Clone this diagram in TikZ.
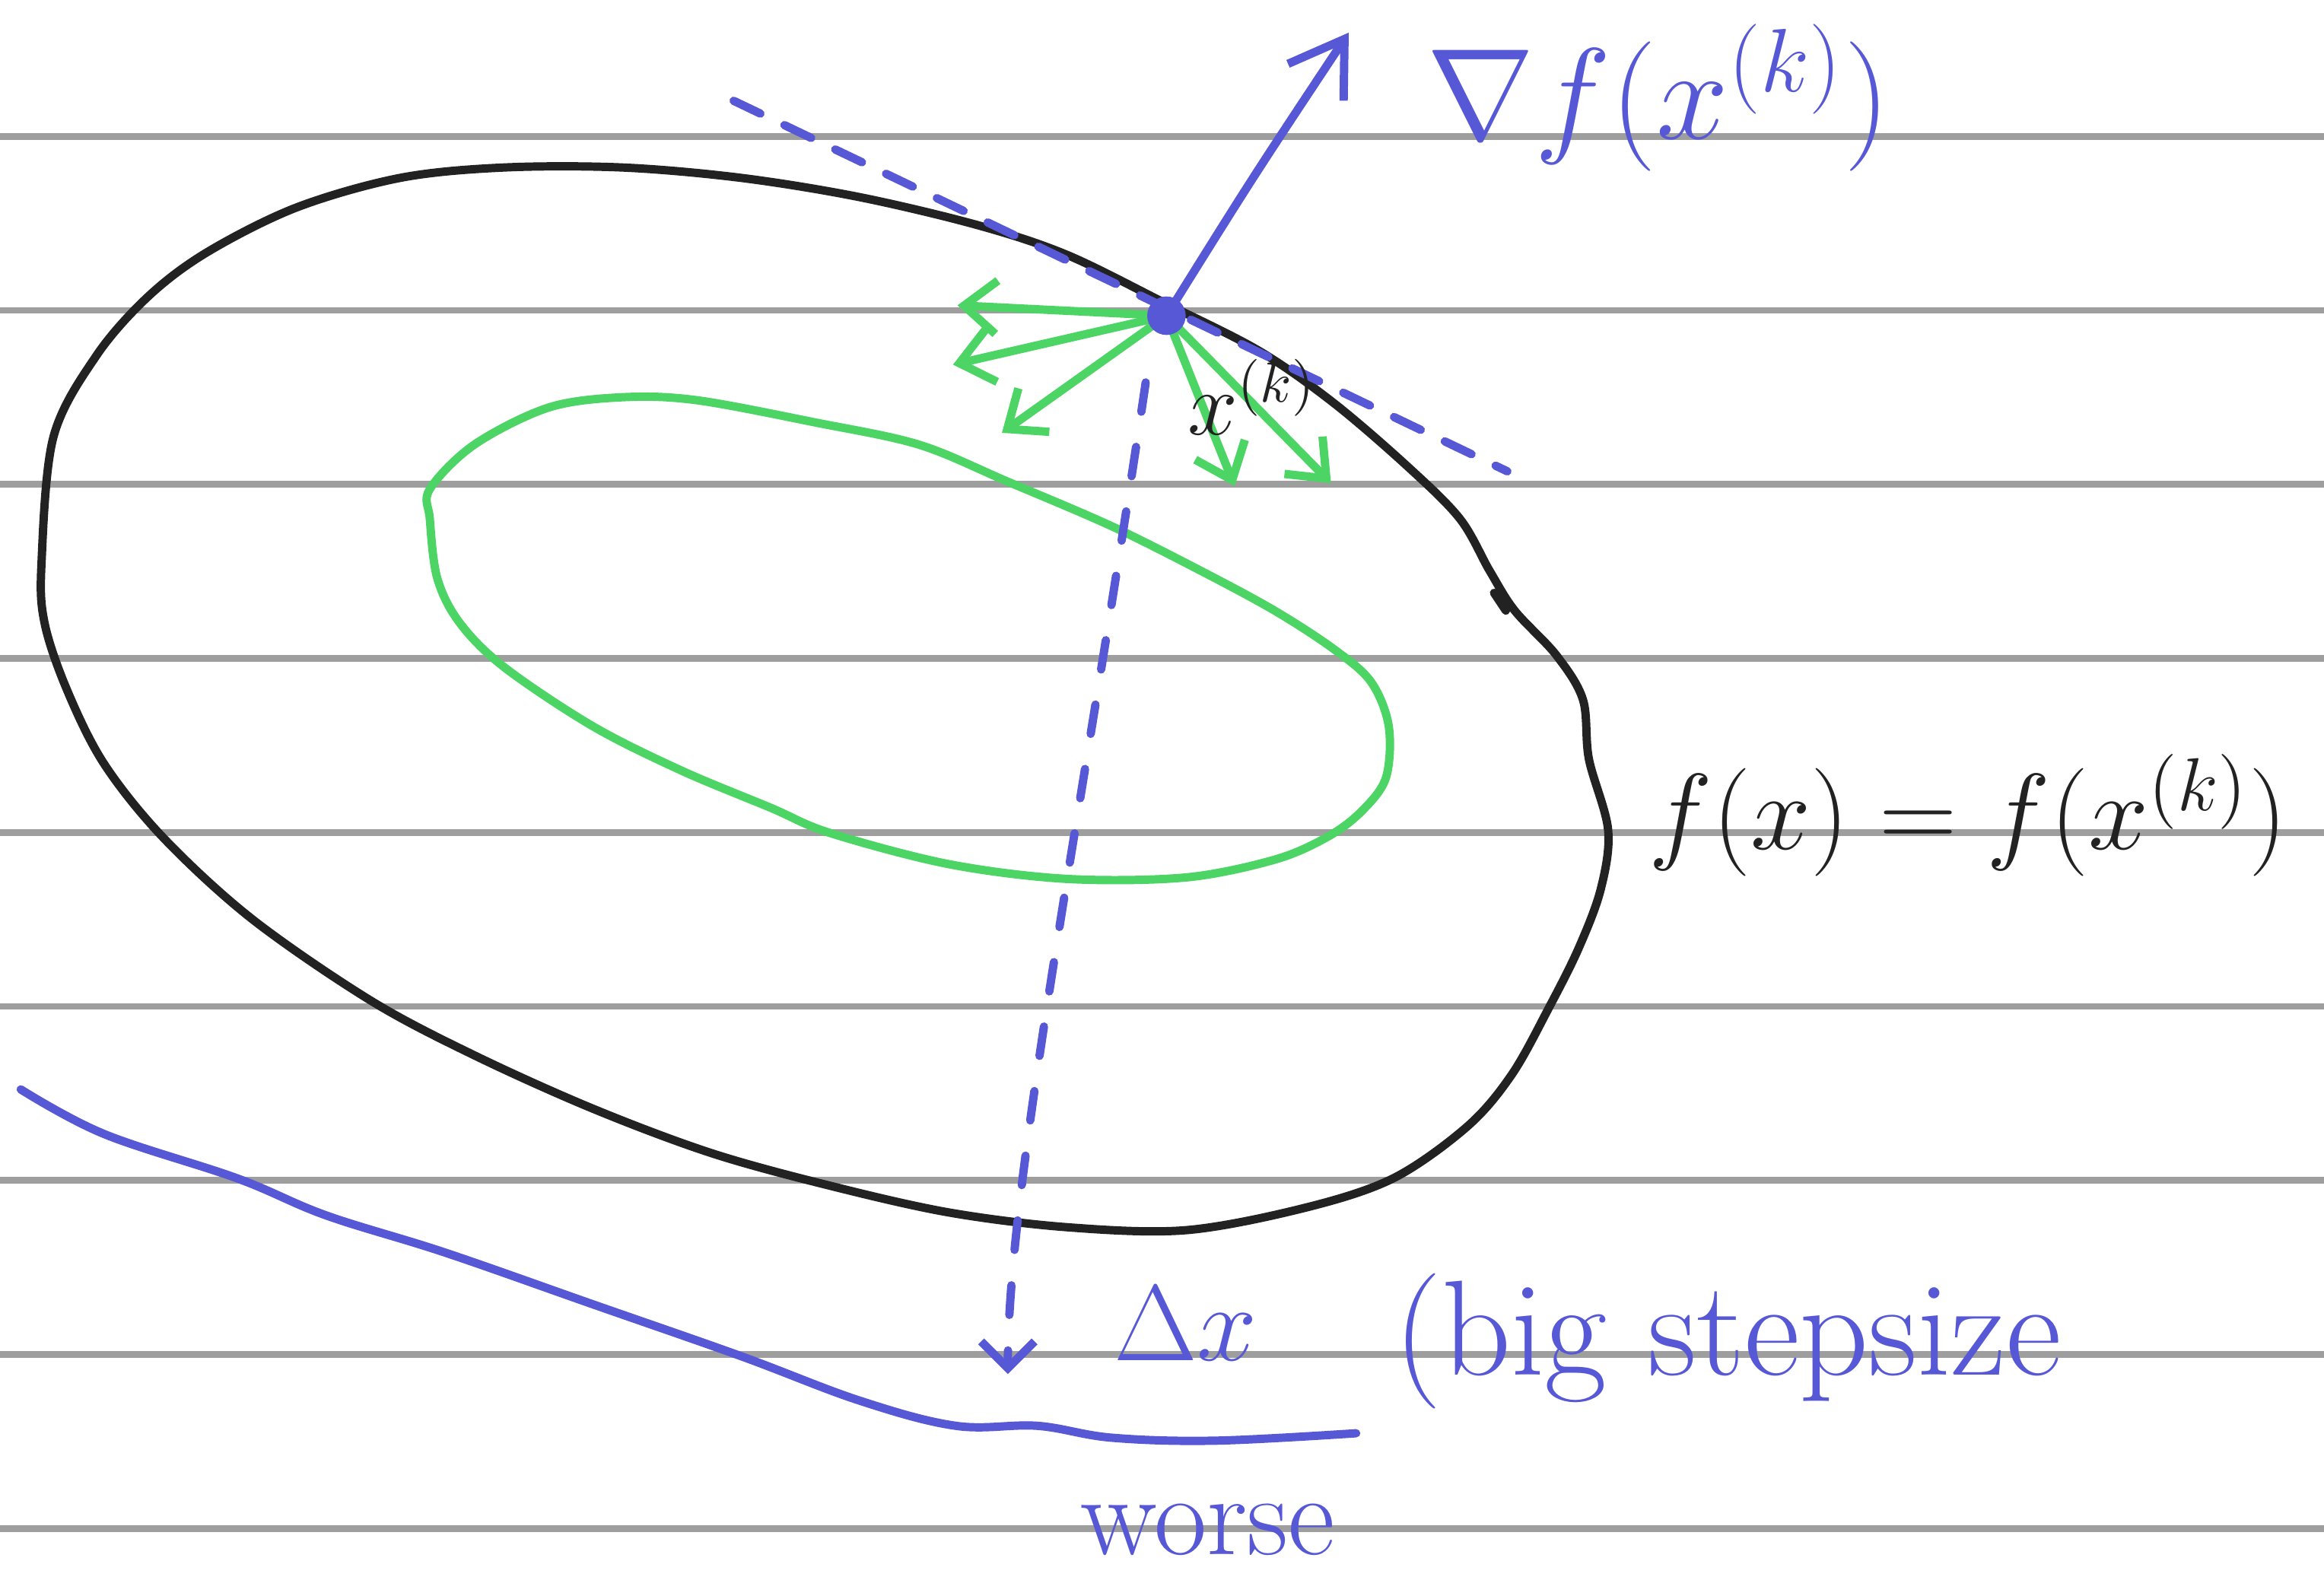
\documentclass[tikz,border=0pt]{standalone}
\usetikzlibrary{arrows.meta}
\definecolor{penblue}{RGB}{86,88,214}
\definecolor{pengreen}{RGB}{76,212,100}
\definecolor{penblack}{RGB}{34,34,34}
\definecolor{paperline}{RGB}{158,158,158}

\begin{document}
\begin{tikzpicture}[x=0.1mm, y=-0.1mm, line cap=round, line join=round,
  ink/.style={line width=1.6pt},
  gstep/.style={ink, pengreen, -{Straight Barb[length=2.2mm, width=3.6mm]}},
  hand/.style={font=\fontsize{22}{26}\selectfont}]
\useasboundingbox (0,0) rectangle (1568,1066);
% ruled paper
\foreach \i in {0,...,8} \draw[paperline, line width=1.3pt] (0,92+117.4*\i) -- (1568,92+117.4*\i);
% level set through x^(k) and a lower one
\draw[ink, penblack] plot[smooth cycle, tension=0.55] coordinates {(28,380) (36,295) (65,240) (100,200) (140,170) (200,140) (270,120) (340,113) (420,113) (500,120) (580,133) (660,152) (720,172) (787,205) (850,237) (900,272) (950,315) (985,350) (1005,385) (1022,412) (1050,442) (1068,472) (1072,512) (1085,560) (1080,600) (1065,640) (1045,680) (1020,725) (990,760) (940,795) (880,815) (800,830) (720,828) (640,818) (560,800) (480,778) (400,748) (320,712) (250,675) (170,620) (110,565) (70,515) (45,465) (30,420)};
\draw[ink, penblack] (1008,400) -- (1016,412);
\draw[ink, pengreen] plot[smooth cycle, tension=0.55] coordinates {(290,330) (320,300) (370,275) (420,268) (470,270) (550,285) (620,300) (680,325) (750,355) (810,385) (860,412) (900,438) (925,460) (937,490) (935,525) (918,548) (895,565) (860,580) (800,592) (720,593) (640,583) (560,562) (520,545) (460,520) (400,490) (340,450) (310,420) (295,390) (290,350)};
\coordinate (xk) at (787,213); \coordinate (tA) at (495,68); \coordinate (tB) at (1017,318);
% tangent and gradient
\draw[ink, penblue, dash pattern=on 2mm off 1.8mm] (tA) -- (tB);
\coordinate (gtip) at (910,22);
\draw[ink, penblue, -{Straight Barb[length=3.5mm, width=4.5mm]}] (xk) .. controls (845,120) .. (gtip);
% candidate steps
\coordinate (g1) at (646,206); \coordinate (g2) at (643,246); \coordinate (g3) at (676,292); \coordinate (g4) at (833,328); \coordinate (g5) at (898,326);
\foreach \t in {g1,g2,g3,g4,g5} \draw[gstep] (xk) -- (\t);
\fill[penblue] (xk) circle (13);
% long step
\coordinate (dtop) at (773,258); \coordinate (dbot) at (680,927);
\draw[ink, penblue, dash pattern=on 2mm off 2.4mm, -{Straight Barb[length=1.8mm, width=3.6mm]}] (dtop) .. controls (730,550) and (680,800) .. (dbot);
\draw[ink, penblue] plot[smooth, tension=0.6] coordinates {(14,735) (70,765) (160,795) (220,820) (300,845) (400,880) (500,915) (580,945) (645,962) (700,962) (750,970) (820,972) (915,967)};
% labels
\node[penblue, anchor=west, font=\fontsize{26}{30}\selectfont] (gradlbl) at (950,66) {$\nabla f(x^{(k)})$};
\node[penblack, font=\fontsize{16}{18}\selectfont] (xklbl) at (845,268) {$x^{(k)}$};
\node[penblack, anchor=west, font=\fontsize{21}{25}\selectfont] (levellbl) at (1100,550) {$f(x)=f(x^{(k)})$};
\node[hand, penblue] (dxlbl) at (800,893) {$\Delta x$};
\node[penblue, anchor=west, font=\fontsize{26}{30}\selectfont] (steplbl) at (928,905) {(big stepsize};
\node[hand, penblue] (worselbl) at (815,1032) {worse};
\end{tikzpicture}
\end{document}
